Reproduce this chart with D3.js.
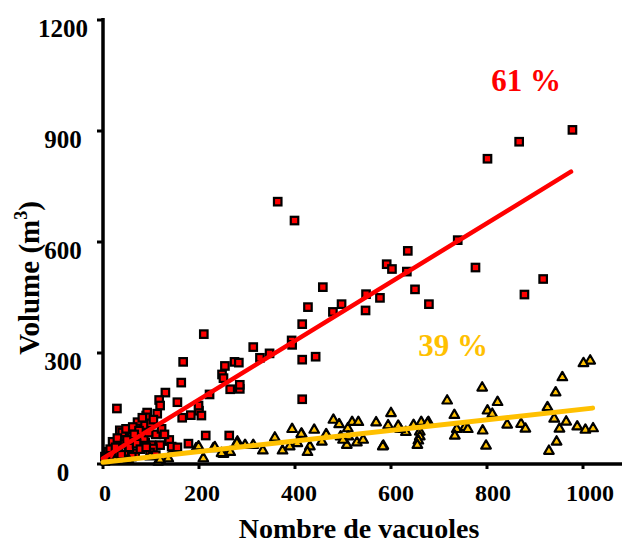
<!DOCTYPE html>
<html>
<head>
<meta charset="utf-8">
<script src="https://cdn.jsdelivr.net/npm/d3@7/dist/d3.min.js"></script>
<style>
  html, body { margin: 0; padding: 0; background: #fff; }
  svg { display: block; }
  text { font-family: "Liberation Serif", "Times New Roman", serif; font-weight: bold; }
</style>
</head>
<body>
<svg id="chart" width="623" height="545"></svg>
<script>
// ---- data ----
const xTicks = [0, 200, 400, 600, 800, 1000];
const yTicks = [0, 300, 600, 900, 1200];
const xTitle = "Nombre de vacuoles";
const yTitle = "Volume (m";
const redLabel = "61 %";
const yellowLabel = "39 %";

// red squares: [nombre de vacuoles, volume]
const redX = [978,867,801,739,635,591,602,633,650,679,776,917,878,577,
  364,399,458,548,547,427,479,497,415,393,394,347,327,313,415,443,210,167,254,274,283,248,251,415,285,285,265,222,200,199,205,183,165,155,163,130,117,119,113,90,92,91,86,72,69,29,214,263,137,146,178,101,35,44,58,60,80,110,138,119,143,155,32,88,104,25,11,4,53,67,98,110,
  40,48,62,75,85,95,100,105,20,30,45,55,70,78,90,15,8,18,38,60,5,26,50,65,82,122,128];
const redY = [903,871,825,605,576,540,527,520,472,432,531,500,458,449,
  709,658,478,459,415,424,411,432,378,334,322,299,287,316,282,290,351,276,265,276,274,242,232,175,203,214,202,188,144,158,131,132,125,167,220,193,173,158,136,131,139,126,104,113,96,150,77,77,62,44,55,51,91,73,91,74,77,80,65,51,47,45,51,58,42,29,33,20,33,29,31,24,
  85,95,100,90,70,85,110,120,60,70,55,45,55,40,45,40,15,22,25,20,8,45,65,80,125,95,80];

// yellow triangles: [nombre de vacuoles, volume]
const yellowX = [1015,1001,957,943,926,940,965,951,988,1005,1021,945,929,
  790,822,801,811,717,732,737,733,754,760,791,798,842,871,880,
  678,663,647,631,660,660,657,655,619,
  600,569,594,615,676,584,
  480,492,519,532,510,511,495,508,529,542,500,583,
  440,465,456,414,431,426,
  394,413,358,374,389,405,333,313,296,280,265,251,230,209,194,199,233,247,115,98,136,53,25,119,279];
const yellowY = [279,272,234,193,153,122,114,95,101,92,96,60,35,
  206,167,144,135,171,132,94,76,99,94,90,49,106,108,95,
  113,113,105,86,87,74,63,51,94,
  137,112,104,103,110,49,
  119,107,113,113,96,74,74,51,58,65,65,47,
  92,80,60,81,47,32,
  94,81,71,36,47,56,36,51,51,60,32,27,42,15,42,47,45,29,6,20,15,11,9,11,56];

// trend lines (end points)
const redFitX = [0, 975];
const redFitY = [15, 790];
const yellowFitX = [0, 1020];
const yellowFitY = [5, 151];

// ---- drawing ----
const svg = d3.select("#chart");
const x = d3.scaleLinear().domain([0, 1000]).range([103, 583]);
const y = d3.scaleLinear().domain([0, 1200]).range([464, 20]);

const RED = "#ff0000", GOLD = "#ffc000";

// axes
const g = svg.append("g");
g.append("line").attr("x1", x(0)).attr("x2", x(0)).attr("y1", y(1200) - 2).attr("y2", y(0) + 2)
  .attr("stroke", "#000").attr("stroke-width", 3.5);
g.append("line").attr("x1", x(0) - 2).attr("x2", 622).attr("y1", y(0)).attr("y2", y(0))
  .attr("stroke", "#000").attr("stroke-width", 3.5);

g.selectAll(".yt").data(yTicks).join("line")
  .attr("x1", x(0) - 6).attr("x2", x(0)).attr("y1", d => y(d)).attr("y2", d => y(d))
  .attr("stroke", "#000").attr("stroke-width", 3);
g.selectAll(".yl").data(yTicks).join("text")
  .attr("x", 63).attr("y", d => y(d) + 16.5)
  .attr("text-anchor", "middle").attr("font-size", 25).text(d => d);

g.selectAll(".xt").data(xTicks).join("line")
  .attr("x1", d => x(d)).attr("x2", d => x(d)).attr("y1", y(0)).attr("y2", y(0) + 5)
  .attr("stroke", "#000").attr("stroke-width", 3);
g.selectAll(".xl").data(xTicks).join("text")
  .attr("x", (d, i) => x(d) + 2 + i * 1).attr("y", 501)
  .attr("text-anchor", "middle").attr("font-size", 24).text(d => d);

// titles
svg.append("text").attr("x", 359).attr("y", 538).attr("text-anchor", "middle")
  .attr("font-size", 28).text(xTitle);
const yt = svg.append("text").attr("transform", "translate(39,278) rotate(-90)")
  .attr("text-anchor", "middle").attr("font-size", 29);
yt.append("tspan").text(yTitle);
yt.append("tspan").attr("font-size", 18).attr("dy", -12).text("3");
yt.append("tspan").attr("dy", 12).text(")");

// red squares
const redData = redX.map((v, i) => [v, redY[i]]);
svg.append("g").selectAll("rect").data(redData).join("rect")
  .attr("x", d => x(d[0]) - 3.75).attr("y", d => y(d[1]) - 3.75)
  .attr("width", 7.5).attr("height", 7.5)
  .attr("fill", RED).attr("stroke", "#000").attr("stroke-width", 2.2);

// yellow triangles
const yellowData = yellowX.map((v, i) => [v, yellowY[i]]);
const tri = d3.symbol().type(d3.symbolTriangle).size(40);
svg.append("g").selectAll("path").data(yellowData).join("path")
  .attr("d", tri)
  .attr("transform", d => `translate(${x(d[0])},${y(d[1])})`)
  .attr("fill", GOLD).attr("stroke", "#000").attr("stroke-width", 2.2).attr("stroke-linejoin", "round");

// trend lines
const line = d3.line().x(d => x(d[0])).y(d => y(d[1]));
svg.append("path").attr("d", line(redFitX.map((v, i) => [v, redFitY[i]])))
  .attr("stroke", RED).attr("stroke-width", 4.5).attr("fill", "none").attr("stroke-linecap", "round");
svg.append("path").attr("d", line(yellowFitX.map((v, i) => [v, yellowFitY[i]])))
  .attr("stroke", GOLD).attr("stroke-width", 5).attr("fill", "none").attr("stroke-linecap", "round");

// percentage labels
svg.append("text").attr("x", 526).attr("y", 91).attr("text-anchor", "middle")
  .attr("font-size", 31).attr("fill", RED).text(redLabel);
svg.append("text").attr("x", 453).attr("y", 356).attr("text-anchor", "middle")
  .attr("font-size", 31).attr("fill", GOLD).text(yellowLabel);
</script>
</body>
</html>
